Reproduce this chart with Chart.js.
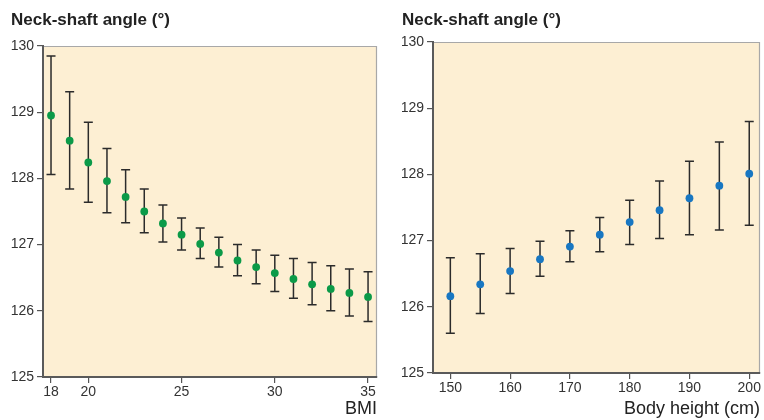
<!DOCTYPE html>
<html>
<head>
<meta charset="utf-8">
<script src="https://cdn.jsdelivr.net/npm/chart.js@4/dist/chart.umd.min.js"></script>
<style>
  html, body { margin: 0; padding: 0; background: #ffffff; }
  #wrap { position: relative; width: 764px; height: 420px; }
  .panel { position: absolute; top: 0; width: 382px; height: 420px; }
  #p1 { left: 0; }
  #p2 { left: 382px; }
</style>
</head>
<body>
<div id="wrap">
  <div class="panel" id="p1"><canvas id="c1" width="382" height="420"></canvas></div>
  <div class="panel" id="p2"><canvas id="c2" width="382" height="420"></canvas></div>
</div>
<script>
// ---- Data ----
const yTitle = 'Neck-shaft angle (°)';
const yTicks = [125, 126, 127, 128, 129, 130];

// Left panel: BMI
const bmiValues = [18, 19, 20, 21, 22, 23, 24, 25, 26, 27, 28, 29, 30, 31, 32, 33, 34, 35];
const bmiMean  = [128.95, 128.57, 128.24, 127.96, 127.72, 127.50, 127.32, 127.15, 127.01, 126.88, 126.76, 126.66, 126.57, 126.48, 126.40, 126.33, 126.27, 126.21];
const bmiUpper = [129.85, 129.31, 128.85, 128.45, 128.13, 127.84, 127.60, 127.40, 127.25, 127.11, 127.00, 126.92, 126.84, 126.79, 126.73, 126.68, 126.63, 126.59];
const bmiLower = [128.06, 127.84, 127.64, 127.48, 127.33, 127.18, 127.04, 126.92, 126.79, 126.66, 126.53, 126.41, 126.29, 126.19, 126.09, 126.00, 125.92, 125.84];
const bmiTicks = [18, 20, 25, 30, 35];
const bmiLabel = 'BMI';

// Right panel: Body height
const heightValues = [150, 155, 160, 165, 170, 175, 180, 185, 190, 195, 200];
const heightMean  = [126.16, 126.34, 126.54, 126.72, 126.91, 127.09, 127.28, 127.46, 127.64, 127.83, 128.01];
const heightUpper = [126.74, 126.80, 126.88, 126.99, 127.15, 127.35, 127.61, 127.90, 128.20, 128.49, 128.80];
const heightLower = [125.60, 125.90, 126.20, 126.46, 126.68, 126.83, 126.94, 127.03, 127.09, 127.16, 127.23];
const heightTicks = [150, 160, 170, 180, 190, 200];
const heightLabel = 'Body height (cm)';

// ---- Styling ----
const FONT = '"Liberation Sans", Arial, Helvetica, sans-serif';
const BG = '#fdefd3';

const bgPlugin = {
  id: 'panelBg',
  beforeDraw(chart) {
    const { ctx, chartArea: a } = chart;
    ctx.save();
    ctx.fillStyle = BG;
    ctx.fillRect(a.left, a.top, a.right - a.left, a.bottom - a.top);
    ctx.strokeStyle = '#a8a8a8';
    ctx.lineWidth = 1.2;
    ctx.beginPath();
    ctx.moveTo(a.left, a.top + 0.5);
    ctx.lineTo(a.right - 0.5, a.top + 0.5);
    ctx.lineTo(a.right - 0.5, a.bottom);
    ctx.stroke();
    ctx.restore();
  }
};

const errPlugin = {
  id: 'errorBars',
  beforeDatasetsDraw(chart) {
    const o = chart.options.plugins.errorBars;
    if (!o) return;
    const { ctx } = chart;
    const xs = chart.scales.x, ys = chart.scales.y;
    ctx.save();
    ctx.strokeStyle = '#2b2b2b';
    ctx.lineWidth = 1.5;
    for (let i = 0; i < o.x.length; i++) {
      const px = xs.getPixelForValue(o.x[i]);
      const pu = ys.getPixelForValue(o.upper[i]);
      const pl = ys.getPixelForValue(o.lower[i]);
      ctx.beginPath();
      ctx.moveTo(px, pu); ctx.lineTo(px, pl);
      ctx.moveTo(px - 4.5, pu); ctx.lineTo(px + 4.5, pu);
      ctx.moveTo(px - 4.5, pl); ctx.lineTo(px + 4.5, pl);
      ctx.stroke();
    }
    ctx.restore();
  }
};

function makeChart(canvasId, cfg) {
  const points = cfg.x.map((v, i) => ({ x: v, y: cfg.mean[i] }));
  return new Chart(document.getElementById(canvasId), {
    type: 'scatter',
    data: {
      datasets: [{
        data: points,
        backgroundColor: cfg.color,
        borderColor: cfg.color,
        pointRadius: 3.9,
        pointBorderWidth: 0,
        pointHoverRadius: 3.9
      }]
    },
    plugins: [bgPlugin, errPlugin],
    options: {
      responsive: false,
      animation: false,
      events: [],
      layout: { padding: { left: cfg.padLeft, right: cfg.padRight, top: 0, bottom: 0 } },
      plugins: {
        legend: { display: false },
        tooltip: { enabled: false },
        title: {
          display: true,
          text: yTitle,
          align: 'start',
          color: '#222',
          font: { family: FONT, size: 17, weight: 'bold', lineHeight: 1.2 },
          padding: { top: 10, bottom: cfg.top - 10 - 20.4 }
        },
        errorBars: { x: cfg.x, upper: cfg.upper, lower: cfg.lower }
      },
      scales: {
        x: {
          type: 'linear',
          position: 'bottom',
          min: cfg.xMin,
          max: cfg.xMax,
          afterBuildTicks(scale) { scale.ticks = cfg.ticks.map(v => ({ value: v })); },
          afterFit(scale) { scale.height = cfg.xHeight; },
          ticks: {
            color: '#333',
            font: { family: FONT, size: 14 },
            padding: 1,
            maxRotation: 0,
            autoSkip: false
          },
          grid: { display: true, drawOnChartArea: false, drawTicks: true, tickLength: 6, color: '#555', lineWidth: 1.2 },
          border: { display: true, color: '#5a5a5a', width: 2 },
          title: {
            display: true,
            text: cfg.xLabel,
            align: 'end',
            color: '#222',
            font: { family: FONT, size: 18, lineHeight: 1.2 },
            padding: 0
          }
        },
        y: {
          type: 'linear',
          position: 'left',
          min: 125,
          max: 130,
          afterBuildTicks(scale) { scale.ticks = yTicks.map(v => ({ value: v })); },
          afterFit(scale) { scale.width = cfg.yWidth; },
          ticks: {
            color: '#333',
            font: { family: FONT, size: 14 },
            padding: 3
          },
          grid: { display: true, drawOnChartArea: false, drawTicks: true, tickLength: 6, color: '#555', lineWidth: 1.2 },
          border: { display: true, color: '#5a5a5a', width: 2 }
        }
      }
    }
  });
}

makeChart('c1', {
  x: bmiValues, mean: bmiMean, upper: bmiUpper, lower: bmiLower,
  ticks: bmiTicks, xLabel: bmiLabel, color: '#0b9a48',
  xMin: 17.57, xMax: 35.48,
  padLeft: 11, padRight: 5, yWidth: 32, top: 46, xHeight: 43
});

makeChart('c2', {
  x: heightValues, mean: heightMean, upper: heightUpper, lower: heightLower,
  ticks: heightTicks, xLabel: heightLabel, color: '#1877c2',
  xMin: 147.1, xMax: 201.8,
  padLeft: 20, padRight: 4, yWidth: 31, top: 42, xHeight: 47
});
</script>
</body>
</html>
